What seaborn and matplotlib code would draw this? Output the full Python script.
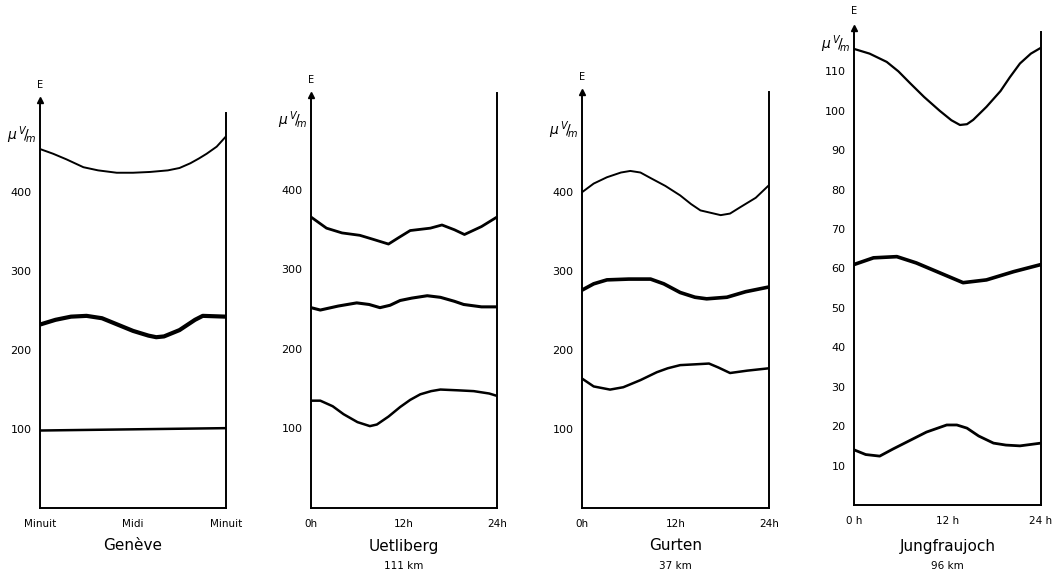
import numpy as np
import pandas as pd
import matplotlib
matplotlib.use("Agg")
import matplotlib.pyplot as plt
import seaborn as sns

# ==============================
# DATA
# ==============================
stations = ["Genève", "Uetliberg", "Gurten", "Jungfraujoch"]
distances = ["", "111 km", "37 km", "96 km"]

# Genève
gen_top_h = [0, 1.7, 3.4, 5.6, 7.5, 9.9, 12, 14.2, 16.5, 18, 19.4, 20.5, 21.5, 22.8, 24]
gen_top_v = [454, 448, 441, 431, 427, 424, 424, 425, 427, 430, 436, 442, 448, 457, 470]
gen_mid_h = [0, 2, 4, 6, 8, 10, 12, 14, 15, 16, 18, 20, 21, 24]
gen_mid_v = [232, 238, 242, 243, 240, 232, 224, 218, 216, 217, 225, 238, 243, 242]
gen_low_h = [0, 12, 24]
gen_low_v = [98, 99.5, 101]

# Uetliberg
uet_top_h = [0, 2, 4, 6.3, 8, 10, 11.3, 12.8, 15.4, 16.9, 18.5, 19.8, 22, 24]
uet_top_v = [366, 352, 346, 343, 338, 332, 340, 349, 352, 356, 350, 344, 354, 366]
uet_mid_h = [0, 1.2, 3.5, 5.9, 7.5, 8.9, 10.2, 11.5, 13, 15, 16.7, 18.5, 19.7, 22, 24]
uet_mid_v = [252, 249, 254, 258, 256, 252, 255, 261, 264, 267, 265, 260, 256, 253, 253]
uet_low_h = [0, 1.2, 2.8, 4.2, 6, 7.6, 8.5, 10, 11.5, 12.8, 14.1, 15.5, 16.7, 19, 21, 23, 24]
uet_low_v = [135, 135, 128, 118, 108, 103, 105, 115, 127, 136, 143, 147, 149, 148, 147, 144, 141]

# Gurten
gur_top_h = [0, 1.5, 3.2, 5, 6.2, 7.5, 8.8, 10.7, 12.6, 14, 15.2, 17.8, 19, 20.3, 22.3, 24]
gur_top_v = [400, 411, 419, 425, 427, 425, 418, 408, 396, 385, 377, 371, 373, 381, 393, 409]
gur_mid_h = [0, 1.5, 3.2, 6, 8.8, 10.5, 12.6, 14.5, 16, 18.6, 21, 24]
gur_mid_v = [276, 284, 289, 290, 290, 284, 273, 267, 265, 267, 274, 280]
gur_low_h = [0, 1.5, 3.6, 5.3, 7.5, 9.6, 11, 12.6, 14.5, 16.3, 17.5, 19, 21.2, 24]
gur_low_v = [164, 154, 150, 153, 162, 172, 177, 181, 182, 183, 178, 171, 174, 177]

# Jungfraujoch
jun_top_h = [0, 2, 4.2, 5.7, 7.2, 9, 11, 12.5, 13.6, 14.5, 15.3, 17, 18.8, 20, 21.3, 22.7, 24]
jun_top_v = [115.7, 114.5, 112.4, 110, 107, 103.5, 100, 97.6, 96.4, 96.6, 97.7, 101, 105, 108.5, 112, 114.5, 116]
jun_mid_h = [0, 2.5, 5.5, 8, 11, 14, 17, 20.5, 24]
jun_mid_v = [61, 62.7, 63, 61.4, 58.9, 56.4, 57.1, 59.2, 61]
jun_low_h = [0, 1.5, 3.3, 5, 6.8, 9.3, 11.9, 13.2, 14.5, 16, 17.9, 19.5, 21.3, 24]
jun_low_v = [14, 12.8, 12.4, 14.2, 16, 18.5, 20.3, 20.3, 19.5, 17.5, 15.7, 15.2, 15, 15.7]

curves = [
    [(gen_top_h, gen_top_v, 1.4), (gen_mid_h, gen_mid_v, 3.0), (gen_low_h, gen_low_v, 1.8)],
    [(uet_top_h, uet_top_v, 2.0), (uet_mid_h, uet_mid_v, 2.2), (uet_low_h, uet_low_v, 1.8)],
    [(gur_top_h, gur_top_v, 1.4), (gur_mid_h, gur_mid_v, 2.6), (gur_low_h, gur_low_v, 1.8)],
    [(jun_top_h, jun_top_v, 1.6), (jun_mid_h, jun_mid_v, 2.6), (jun_low_h, jun_low_v, 2.0)],
]

yticks = [[100, 200, 300, 400], [100, 200, 300, 400], [100, 200, 300, 400],
          [10, 20, 30, 40, 50, 60, 70, 80, 90, 100, 110]]
xtick_labels = [["Minuit", "Midi", "Minuit"], ["0h", "12h", "24h"],
                ["0h", "12h", "24h"], ["0 h", "12 h", "24 h"]]
ytops = [516, 522, 527, 121]
unit_y = [471, 488, 479, 117]
arrow_top = [516, 519, 527, 121]
right_top = [500, 522, 527, 120]

# ==============================
# FIGURE
# ==============================
sns.set_style("white")
plt.rcParams['font.family'] = ['DejaVu Sans']
plt.rcParams['text.color'] = 'black'
plt.rcParams['xtick.color'] = 'black'
plt.rcParams['ytick.color'] = 'black'
plt.rcParams['lines.solid_joinstyle'] = 'round'
plt.rcParams['lines.solid_capstyle'] = 'round'

W, H = 1061, 572
fig = plt.figure(figsize=(W / 100, H / 100), dpi=100)

# pixel boxes: left, right, y of value 0, top
boxes = [(40, 226, 508, 100), (311, 497, 508, 93), (582, 769, 508, 92), (854, 1041, 505, 28)]

for i, (l, r, b, t) in enumerate(boxes):
    ax = fig.add_axes([l / W, 1 - b / H, (r - l) / W, (b - t) / H])
    for h, v, lw in curves[i]:
        sns.lineplot(x=h, y=v, ax=ax, color="black", linewidth=lw)
    ax.set_xlim(0, 24)
    ax.set_ylim(0, ytops[i])
    ax.set_xticks([0, 12, 24])
    ax.set_xticklabels(xtick_labels[i], fontsize=7.5)
    ax.set_yticks(yticks[i])
    ax.set_yticklabels([str(v) for v in yticks[i]], fontsize=8)
    ax.tick_params(axis="y", direction="out", length=4, width=1, pad=2)
    ax.tick_params(axis="x", length=0, pad=8)
    ax.spines["top"].set_visible(False)
    for s in ["left", "right", "bottom"]:
        ax.spines[s].set_color("black")
        ax.spines[s].set_linewidth(1.4)
    ax.spines["left"].set_bounds(0, arrow_top[i])
    ax.spines["right"].set_bounds(0, right_top[i])
    # arrow on the E axis
    ax.plot([0], [arrow_top[i]], marker="^", color="black", markersize=5, clip_on=False)
    ax.text(0, arrow_top[i] * 1.025, "E", ha="center", va="bottom", fontsize=7)
    ax.text(-0.02, unit_y[i], r"$\mu\,^{V}\!/\!_{m}$", transform=ax.get_yaxis_transform(),
            ha="right", va="center", fontsize=10)
    ax.set_xlabel("")
    ax.set_ylabel("")
    cx = (l + r) / 2 / W
    fig.text(cx, 1 - 546 / H, stations[i], ha="center", va="center", fontsize=11)
    if distances[i]:
        fig.text(cx, 1 - 566 / H, distances[i], ha="center", va="center", fontsize=7.5)

fig.savefig("out.png", dpi=100, facecolor="white")
